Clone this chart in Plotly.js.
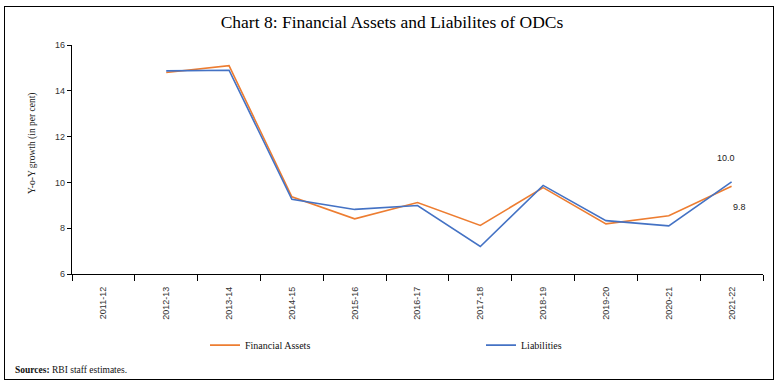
<!DOCTYPE html>
<html>
<head>
<meta charset="utf-8">
<script src="https://cdn.plot.ly/plotly-3.0.1.min.js"></script>
<style>
html,body{margin:0;padding:0;background:#fff;}
#wrap{position:relative;width:784px;height:386px;}
#chart{position:absolute;left:0;top:0;width:784px;height:386px;}
#frame{position:absolute;left:4px;top:6px;width:768px;height:372px;border:1px solid #000;pointer-events:none;}
</style>
</head>
<body>
<div id="wrap"><div id="chart"></div><div id="frame"></div></div>
<script>
const years = ["2011-12","2012-13","2013-14","2014-15","2015-16","2016-17","2017-18","2018-19","2019-20","2020-21","2021-22"];
const financialAssets = [null, 14.8, 15.1, 9.37, 8.41, 9.12, 8.12, 9.77, 8.19, 8.54, 9.83];
const liabilities = [null, 14.87, 14.9, 9.26, 8.82, 8.99, 7.2, 9.87, 8.33, 8.1, 10.02];
const yTicks = [6, 8, 10, 12, 14, 16];

const serif = "Liberation Serif, DejaVu Serif, serif";
const sans = "Liberation Sans, Arial, sans-serif";
const last = years.length - 1;

const traces = [
  {x: years, y: financialAssets, name: "Financial Assets", type: "scatter", mode: "lines",
   line: {color: "#ED7D31", width: 1.6}, connectgaps: false},
  {x: years, y: liabilities, name: "Liabilities", type: "scatter", mode: "lines",
   line: {color: "#4472C4", width: 1.6}, connectgaps: false}
];

const layout = {
  width: 784, height: 386,
  margin: {l: 72, r: 21, t: 45, b: 112, pad: 0, autoexpand: false},
  paper_bgcolor: "#fff", plot_bgcolor: "#fff",
  title: {text: "Chart 8: Financial Assets and Liabilites of ODCs",
          font: {family: serif, size: 17.5, color: "#000"},
          x: 0.5, xanchor: "center", xref: "container", y: 0.943, yanchor: "middle", yref: "container"},
  xaxis: {type: "category", categoryorder: "array", categoryarray: years,
          tickson: "boundaries", ticks: "outside", ticklen: 6, tickcolor: "#000",
          showline: true, linecolor: "#000", linewidth: 1.2,
          showgrid: false, zeroline: false, tickangle: -90, ticklabelstandoff: 8,
          tickfont: {family: sans, size: 9, color: "#333"},
          range: [-0.5, years.length - 0.5], fixedrange: true, automargin: false},
  yaxis: {range: [6, 16], tickvals: yTicks, ticktext: yTicks.map(String),
          ticks: "outside", ticklen: 4, tickcolor: "#000",
          showline: true, linecolor: "#000", linewidth: 1.2,
          showgrid: false, zeroline: false,
          tickfont: {family: sans, size: 9, color: "#333"}, fixedrange: true, automargin: false},
  showlegend: true,
  legend: {orientation: "h", xref: "container", yref: "container",
           x: 205 / 784, xanchor: "left", y: 0.106, yanchor: "middle",
           font: {family: serif, size: 10, color: "#111"},
           entrywidth: 231, entrywidthmode: "pixels", bgcolor: "rgba(0,0,0,0)",
           itemwidth: 30, tracegroupgap: 0},
  annotations: [
    {text: "Y-o-Y growth (in per cent)", textangle: -90, xref: "paper", yref: "paper",
     x: -0.0564, y: 0.568, xanchor: "center", yanchor: "middle", showarrow: false,
     font: {family: serif, size: 9.5, color: "#222"}},
    {text: liabilities[last].toFixed(1), x: years[last], y: liabilities[last], xref: "x", yref: "y",
     showarrow: false, xshift: -6, yshift: 24, font: {family: sans, size: 9, color: "#222"}},
    {text: financialAssets[last].toFixed(1), x: years[last], y: financialAssets[last], xref: "x", yref: "y",
     showarrow: false, xshift: 8, yshift: -21, font: {family: sans, size: 9, color: "#222"}},
    {text: "<b>Sources:</b> RBI staff estimates.", xref: "paper", yref: "paper",
     x: -0.0854, y: -0.419, xanchor: "left", yanchor: "middle", showarrow: false,
     font: {family: serif, size: 9.5, color: "#111"}}
  ]
};

Plotly.newPlot("chart", traces, layout, {displayModeBar: false, staticPlot: true});
</script>
</body>
</html>
